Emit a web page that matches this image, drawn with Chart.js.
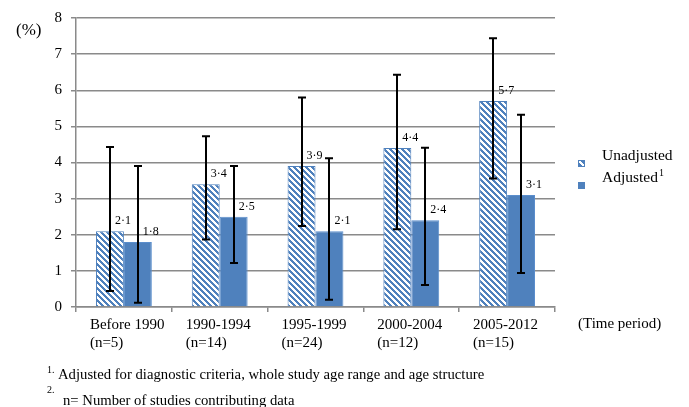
<!DOCTYPE html>
<html>
<head>
<meta charset="utf-8">
<script src="https://cdn.jsdelivr.net/npm/chart.js@4/dist/chart.umd.min.js"></script>
<style>
  html, body { margin: 0; padding: 0; background: #fff; }
  canvas { display: block; }
</style>
</head>
<body>
<canvas id="chart" width="689" height="407"></canvas>
<script>
// Time periods and number of contributing studies per period
const periods = ['Before 1990', '1990-1994', '1995-1999', '2000-2004', '2005-2012'];
const studyCounts = [5, 14, 24, 12, 15];

// Prevalence (%) with 95% interval bounds
const seriesNames = ['Unadjusted', 'Adjusted'];
const unadjusted = [2.1, 3.4, 3.9, 4.4, 5.7];
const unadjustedLow = [0.44, 1.87, 2.24, 2.15, 3.56];
const unadjustedHigh = [4.43, 4.73, 5.80, 6.43, 7.44];
const adjusted = [1.8, 2.5, 2.1, 2.4, 3.1];
const adjustedLow = [0.12, 1.22, 0.20, 0.61, 0.94];
const adjustedHigh = [3.90, 3.90, 4.12, 4.41, 5.32];

const yMin = 0, yMax = 8, yStep = 1;

const footnotes = [
  ['1.', 'Adjusted for diagnostic criteria, whole study age range and age structure'],
  ['2.', 'n= Number of studies contributing data']
];

const SERIF = "'Liberation Serif', 'Times New Roman', Times, serif";
const BLUE = '#4f81bd';
const GRID = '#8a8a8a';

const canvas = document.getElementById('chart');
const ctx = canvas.getContext('2d');

// Wide downward-diagonal hatch used for the unadjusted series
function makeHatch(color) {
  const s = 6;
  const c = document.createElement('canvas');
  c.width = c.height = s;
  const g = c.getContext('2d');
  g.fillStyle = '#ffffff';
  g.fillRect(0, 0, s, s);
  g.fillStyle = color;
  for (let i = 0; i < s; i++) {
    for (let j = 0; j < s; j++) {
      if ((((i - j) % s) + s) % s < 3) g.fillRect(i, j, 1, 1);
    }
  }
  return ctx.createPattern(c, 'repeat');
}
const hatch = makeHatch(BLUE);

const fmt = v => v.toFixed(1).replace('.', '\u00B7');

// Error bars, value labels, legend, axis captions and footnotes
const extras = {
  id: 'extras',
  afterDatasetsDraw(chart) {
    const c = chart.ctx;
    const y = chart.scales.y;
    const bounds = [[unadjustedLow, unadjustedHigh], [adjustedLow, adjustedHigh]];
    c.save();
    // value labels
    c.font = '12px ' + SERIF;
    c.fillStyle = '#000';
    c.textAlign = 'center';
    c.textBaseline = 'middle';
    chart.data.datasets.forEach((ds, di) => {
      chart.getDatasetMeta(di).data.forEach((bar, i) => {
        c.fillText(fmt(ds.data[i]), bar.x + 13, bar.y - 10);
      });
    });
    // error bars
    c.strokeStyle = '#000';
    c.lineWidth = 2;
    chart.data.datasets.forEach((ds, di) => {
      const [lo, hi] = bounds[di];
      chart.getDatasetMeta(di).data.forEach((bar, i) => {
        const x = Math.round(bar.x);
        const yl = y.getPixelForValue(lo[i]);
        const yh = y.getPixelForValue(hi[i]);
        c.beginPath();
        c.moveTo(x, yl); c.lineTo(x, yh);
        c.moveTo(x - 4, yl); c.lineTo(x + 4, yl);
        c.moveTo(x - 4, yh); c.lineTo(x + 4, yh);
        c.stroke();
      });
    });
    c.restore();
  },
  afterDraw(chart) {
    const c = chart.ctx;
    const a = chart.chartArea;
    c.save();
    c.fillStyle = '#000';
    c.textBaseline = 'alphabetic';
    c.textAlign = 'left';

    // legend
    const lx = a.right + 23;
    const keys = [
      { fill: hatch, stroke: BLUE, base: 160 },
      { fill: BLUE, stroke: BLUE, base: 182 }
    ];
    keys.forEach((k, i) => {
      c.fillStyle = k.fill;
      c.fillRect(lx, k.base, 7, 7);
      c.strokeStyle = k.stroke;
      c.lineWidth = 1;
      c.strokeRect(lx + 0.5, k.base + 0.5, 6, 6);
      c.fillStyle = '#000';
      c.font = '15.5px ' + SERIF;
      c.fillText(seriesNames[i], lx + 24, k.base);
    });
    const w = c.measureText(seriesNames[1]).width;
    c.font = '10px ' + SERIF;
    c.fillText('1', lx + 24 + w + 1, keys[1].base - 6);

    // axis captions
    c.font = '17px ' + SERIF;
    c.fillText('(%)', 16, 35);
    c.font = '15px ' + SERIF;
    c.fillText('(Time period)', a.right + 23, 328);

    // footnotes
    const bases = [379, 405];
    footnotes.forEach((f, i) => {
      c.font = '10px ' + SERIF;
      c.fillText(f[0], 47, bases[i] - (i === 0 ? 6 : 12));
      c.font = '14.7px ' + SERIF;
      c.fillText(f[1], i === 0 ? 58 : 63, bases[i]);
    });
    c.restore();
  }
};

new Chart(ctx, {
  type: 'bar',
  data: {
    labels: periods,
    datasets: [
      { label: seriesNames[0], data: unadjusted, backgroundColor: hatch, borderColor: BLUE, borderWidth: 1 },
      { label: seriesNames[1], data: adjusted, backgroundColor: BLUE, borderColor: '#5b8ecc', borderWidth: 1 }
    ]
  },
  options: {
    responsive: false,
    animation: false,
    events: [],
    datasets: { bar: { categoryPercentage: 0.583, barPercentage: 1 } },
    layout: { padding: { left: 0, top: 17, right: 134, bottom: 0 } },
    plugins: { legend: { display: false }, tooltip: { enabled: false } },
    scales: {
      x: {
        grid: { drawOnChartArea: false, drawTicks: true, tickLength: 5, color: GRID, lineWidth: 1.5 },
        border: { color: GRID, width: 1.5 },
        ticks: {
          color: '#000',
          font: { family: SERIF, size: 15, lineHeight: 1.2 },
          padding: 4,
          maxRotation: 0,
          autoSkip: false,
          align: 'start',
          labelOffset: -34,
          callback: (v, i) => [periods[i], '(n=' + studyCounts[i] + ')']
        },
        afterFit: s => { s.height = 100; }
      },
      y: {
        min: yMin,
        max: yMax,
        grid: { color: GRID, lineWidth: 1.5, tickLength: 5 },
        border: { color: GRID, width: 1.5 },
        ticks: {
          stepSize: yStep,
          color: '#000',
          padding: 9,
          font: { family: SERIF, size: 15 }
        },
        afterFit: s => { s.width = 76; }
      }
    }
  },
  plugins: [extras]
});
</script>
</body>
</html>
